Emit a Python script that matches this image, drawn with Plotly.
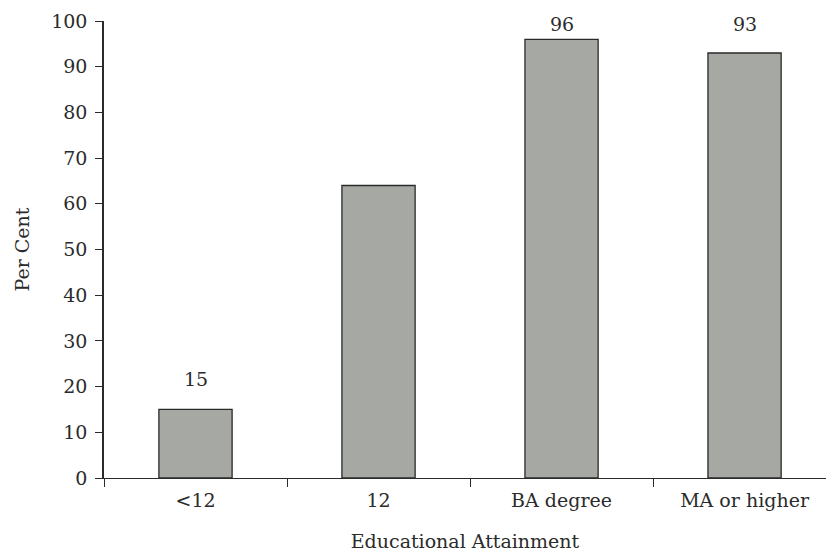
import plotly.graph_objects as go

categories = ["<12", "12", "BA degree", "MA or higher"]
per_cent = [15, 64, 96, 93]

y_ticks = list(range(0, 101, 10))

FONT = "DejaVu Serif"
SIZE = 19
INK = "#2b2b2b"

fig = go.Figure(
    go.Bar(
        x=categories,
        y=per_cent,
        width=0.4,
        marker=dict(color="#a6a8a3", line=dict(color="#2a2a2a", width=1.3)),
        hoverinfo="x+y",
    )
)

# value labels above each bar, kept inside the top of the frame
for cat, val in zip(categories, per_cent):
    fig.add_annotation(
        x=cat,
        y=min(val + 6.7, 99.3),
        text=str(val),
        showarrow=False,
        font=dict(family=FONT, size=SIZE, color=INK),
        yanchor="middle",
    )

fig.update_layout(
    width=826,
    height=553,
    margin=dict(l=104, r=0, t=21, b=75),
    paper_bgcolor="white",
    plot_bgcolor="white",
    showlegend=False,
    font=dict(family=FONT, size=SIZE, color=INK),
    xaxis=dict(
        type="category",
        range=[-0.5, 3.445],
        showline=True,
        linecolor=INK,
        linewidth=1.3,
        ticks="outside",
        tickson="boundaries",
        ticklen=8,
        tickcolor=INK,
        tickwidth=1.3,
        ticklabelstandoff=5,
        showgrid=False,
        title=dict(text="Educational Attainment", standoff=24,
                   font=dict(family=FONT, size=SIZE, color=INK)),
        tickfont=dict(family=FONT, size=SIZE, color=INK),
    ),
    yaxis=dict(
        range=[0, 100],
        tickvals=y_ticks,
        showline=True,
        linecolor=INK,
        linewidth=1.5,
        ticks="outside",
        ticklen=7,
        tickcolor=INK,
        tickwidth=1.3,
        ticklabelstandoff=4,
        showgrid=False,
        zeroline=False,
        title=dict(text="Per Cent", standoff=17,
                   font=dict(family=FONT, size=SIZE, color=INK)),
        tickfont=dict(family=FONT, size=SIZE, color=INK),
    ),
)

fig.write_html("out.html")
